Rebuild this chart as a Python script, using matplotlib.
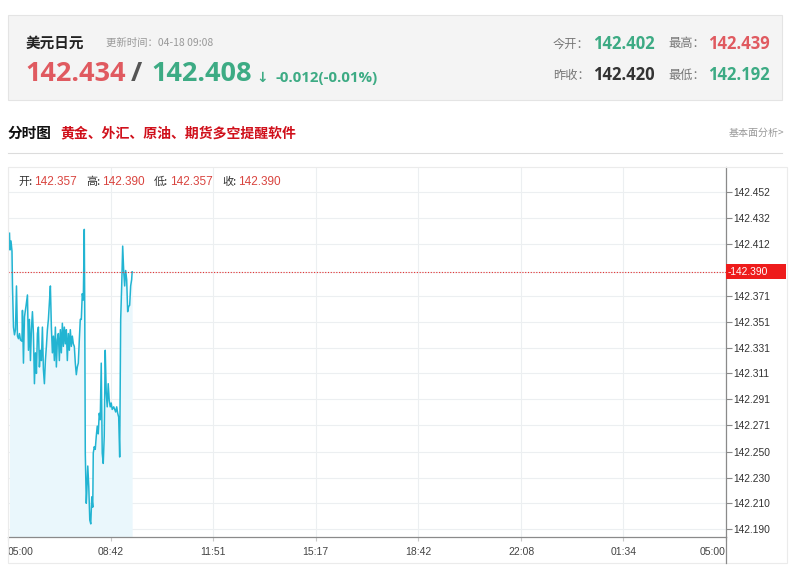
import matplotlib
matplotlib.use('Agg')
import matplotlib.pyplot as plt
from matplotlib.patches import Rectangle
from matplotlib.lines import Line2D
from matplotlib.transforms import blended_transform_factory

plt.rcParams['font.family'] = ['Liberation Sans', 'Noto Sans CJK SC', 'DejaVu Sans']

# minutes after 05:00
times = [3, 4, 6, 8, 9, 11, 13, 15, 17, 19,
         21, 23, 25, 28, 29, 31, 33, 36, 39, 41,
         43, 45, 47, 49, 51, 53, 55, 57, 59, 61,
         63, 65, 67, 69, 71, 73, 75, 77, 79, 81,
         83, 85, 87, 89, 91, 93, 95, 97, 99, 101,
         103, 105, 107, 109, 111, 113, 115, 117, 119, 121,
         123, 125, 127, 129, 131, 133, 135, 137, 139, 141,
         143, 145, 147, 149, 151, 153, 154, 155, 157, 158,
         160, 162, 164, 166, 168, 170, 171, 173, 175, 177,
         179, 181, 183, 185, 187, 189, 191, 193, 195, 197,
         199, 201, 203, 205, 207, 209, 212, 214, 216, 218,
         220, 222, 224, 226, 228, 230, 232, 234, 236, 238,
         240, 242, 244, 246, 248, 249]
prices = [142.420, 142.407, 142.414, 142.406, 142.379, 142.347, 142.341, 142.345, 142.379, 142.340,
          142.338, 142.342, 142.337, 142.336, 142.360, 142.319, 142.355, 142.363, 142.372, 142.329,
          142.353, 142.321, 142.345, 142.359, 142.342, 142.303, 142.327, 142.311, 142.342, 142.347,
          142.316, 142.329, 142.321, 142.347, 142.314, 142.303, 142.321, 142.332, 142.345, 142.353,
          142.366, 142.379, 142.347, 142.327, 142.340, 142.321, 142.347, 142.316, 142.337, 142.342,
          142.321, 142.345, 142.327, 142.350, 142.332, 142.347, 142.334, 142.345, 142.321, 142.342,
          142.329, 142.345, 142.332, 142.340, 142.334, 142.332, 142.319, 142.310, 142.316, 142.319,
          142.337, 142.353, 142.353, 142.373, 142.368, 142.423, 142.353, 142.249, 142.210, 142.218,
          142.239, 142.223, 142.197, 142.194, 142.215, 142.207, 142.249, 142.254, 142.252, 142.262,
          142.270, 142.264, 142.280, 142.275, 142.319, 142.249, 142.241, 142.262, 142.329, 142.296,
          142.285, 142.303, 142.290, 142.285, 142.288, 142.283, 142.285, 142.283, 142.281, 142.285,
          142.280, 142.277, 142.246, 142.353, 142.379, 142.410, 142.391, 142.379, 142.391, 142.384,
          142.359, 142.363, 142.364, 142.379, 142.384, 142.390]

last_price = 142.390
y_ticks = [142.190, 142.210, 142.230, 142.250, 142.271, 142.291, 142.311,
           142.331, 142.351, 142.371, 142.390, 142.412, 142.432, 142.452]
y_labels = ['142.190', '142.210', '142.230', '142.250', '142.271', '142.291', '142.311',
            '142.331', '142.351', '142.371', '', '142.412', '142.432', '142.452']
x_labels = ['05:00', '08:42', '11:51', '15:17', '18:42', '22:08', '01:34', '05:00']
x_ticks = [0, 206, 411, 617, 823, 1029, 1234, 1440]

W, H = 800, 584
fig = plt.figure(figsize=(8, 5.84), dpi=100)


def fx(x):
    return x / W


def fy(y):
    return 1 - y / H


def ftext(x, y, s, **kw):
    kw.setdefault('va', 'center')
    fig.text(fx(x), fy(y), s, **kw)


def fline(x0, y0, x1, y1, **kw):
    fig.add_artist(Line2D([fx(x0), fx(x1)], [fy(y0), fy(y1)], transform=fig.transFigure, **kw))


# header panel
fig.add_artist(Rectangle((fx(8), fy(100)), 774 / W, 85 / H, transform=fig.transFigure,
                         facecolor='#f4f4f4', edgecolor='#e4e4e4', lw=0.8))
num_font = ['Open Sans', 'Noto Sans CJK SC', 'DejaVu Sans']
cjk = ['Noto Sans CJK SC', 'DejaVu Sans']
red = '#e05a60'
green = '#3dab84'

ftext(26, 43, '美元日元', fontsize=10.5, fontweight='bold', color='#222', family=cjk)
ftext(106, 43, '更新时间：04-18 09:08', fontsize=7.5, color='#999', family=cjk)
ftext(25, 74, '142.434', fontsize=19.5, fontweight='bold', color=red, family=num_font)
ftext(131, 74, '/', fontsize=19.5, fontweight='bold', color='#555', family=num_font)
ftext(151, 74, '142.408', fontsize=19.5, fontweight='bold', color=green, family=num_font)
ftext(256, 78, '↓', fontsize=10, fontweight='bold', color=green, family=['DejaVu Sans'])
ftext(275, 78, '-0.012(-0.01%)', fontsize=10.8, fontweight='bold', color=green, family=num_font)

ftext(553, 44, '今开：', fontsize=8.8, color='#777', family=cjk)
ftext(593, 44, '142.402', fontsize=12, fontweight='bold', color=green, family=num_font)
ftext(668, 44, '最高：', fontsize=8.8, color='#777', family=cjk)
ftext(708, 44, '142.439', fontsize=12, fontweight='bold', color=red, family=num_font)
ftext(553, 75, '昨收：', fontsize=8.8, color='#777', family=cjk)
ftext(593, 75, '142.420', fontsize=12, fontweight='bold', color='#333', family=num_font)
ftext(668, 75, '最低：', fontsize=8.8, color='#777', family=cjk)
ftext(708, 75, '142.192', fontsize=12, fontweight='bold', color=green, family=num_font)

# section title
ftext(8, 133, '分时图', fontsize=10.5, fontweight='bold', color='#111', family=cjk)
ftext(60, 133, '黄金、外汇、原油、期货多空提醒软件', fontsize=10, fontweight='bold',
      color='#d0101b', family=cjk)
ftext(784, 133, '基本面分析>', fontsize=7.2, color='#999', ha='right', family=cjk)
fline(8, 153, 782, 153, color='#dcdcdc', lw=0.8)

# chart frame
fig.add_artist(Rectangle((fx(8), fy(563)), 779 / W, 396 / H, transform=fig.transFigure,
                         facecolor='none', edgecolor='#ebebeb', lw=0.8))

ax = fig.add_axes([fx(8), fy(537), 718 / W, 370 / H])
ylo, yhi = 142.1838, 142.4715
ax.set_xlim(0, 1440)
ax.set_ylim(ylo, yhi)

ax.fill_between(times, prices, ylo, color='#eaf7fc', lw=0)
ax.plot(times, prices, color='#22b4d2', lw=1.1)
ax.axhline(last_price, color='#e53030', ls=(0, (1, 1.5)), lw=0.8)

ax.set_xticks(x_ticks)
ax.set_xticklabels(x_labels)
ax.set_yticks(y_ticks)
ax.set_yticklabels(y_labels)
ax.yaxis.tick_right()
ax.grid(color='#eceff1', lw=0.8)
ax.set_axisbelow(True)
for s in ['top', 'left']:
    ax.spines[s].set_visible(False)
for s in ['bottom', 'right']:
    ax.spines[s].set_color('#8a8a8a')
    ax.spines[s].set_linewidth(0.9)
ax.tick_params(axis='y', length=4, width=0.8, color='#8a8a8a', labelcolor='#333',
               labelsize=7.4, pad=1)
ax.tick_params(axis='x', length=3, width=0.8, color='#c8c8c8', labelcolor='#444',
               labelsize=7.5, pad=4)
xl = ax.get_xticklabels()
xl[0].set_ha('left')
xl[-1].set_ha('right')

fline(726, 537, 726, 563, color='#8a8a8a', lw=0.9)

# price label on the axis
tr = blended_transform_factory(ax.transAxes, ax.transData)
ax.add_patch(Rectangle((1.0, last_price - 0.0058), 60 / 718, 0.0116, transform=tr,
                       facecolor='#ee1b1b', edgecolor='none', clip_on=False, zorder=5))
ax.text(1.0 + 2 / 718, last_price, '-' + f'{last_price:.3f}', transform=tr, color='white',
        fontsize=7.4, va='center', ha='left', zorder=6)

# OHLC info row
ohlc = [('开:', '142.357'), ('高:', '142.390'), ('低:', '142.357'), ('收:', '142.390')]
xs = [18, 86, 154, 222]
for x, (k, v) in zip(xs, ohlc):
    ftext(x, 182, k, fontsize=8, color='#333', family=cjk)
    ftext(x + 16, 182, v, fontsize=8.5, color='#d9443f')

fig.savefig('out.png', dpi=100)
